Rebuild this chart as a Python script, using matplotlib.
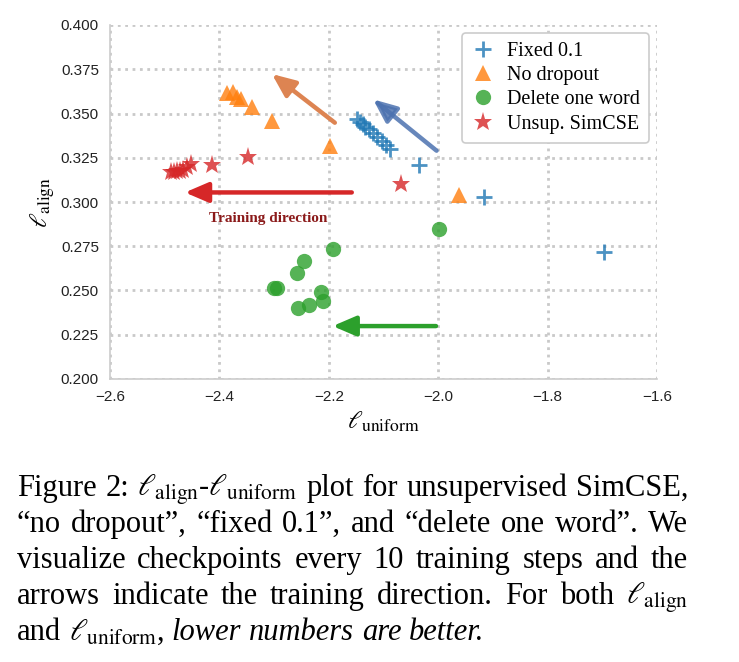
import numpy as np
import matplotlib
matplotlib.use("Agg")
import matplotlib.pyplot as plt
from matplotlib.ticker import FormatStrFormatter, FuncFormatter

plt.rcParams['mathtext.fontset'] = 'stix'

# ---------------- data ----------------
fixed_x = [-2.149, -2.143, -2.138, -2.133, -2.126, -2.119, -2.111, -2.103, -2.095, -2.089, -2.035, -1.916, -1.697]
fixed_y = [0.3467, 0.3454, 0.3441, 0.3426, 0.3411, 0.3392, 0.3369, 0.3346, 0.3322, 0.3298, 0.3209, 0.3030, 0.2716]

nodrop_x = [-2.386, -2.376, -2.368, -2.361, -2.341, -2.303, -2.197, -1.962]
nodrop_y = [0.3614, 0.3623, 0.3595, 0.3580, 0.3538, 0.3459, 0.3316, 0.3040]

delete_x = [-1.998, -2.192, -2.245, -2.259, -2.301, -2.294, -2.215, -2.211, -2.236, -2.256]
delete_y = [0.2847, 0.2733, 0.2665, 0.2597, 0.2514, 0.2514, 0.2493, 0.2441, 0.2418, 0.2401]

simcse_x = [-2.489, -2.483, -2.478, -2.472, -2.467, -2.459, -2.452, -2.414, -2.348, -2.068]
simcse_y = [0.3169, 0.3169, 0.3175, 0.3175, 0.3181, 0.3198, 0.3215, 0.3209, 0.3252, 0.3102]

series_labels = ["Fixed 0.1", "No dropout", "Delete one word", "Unsup. SimCSE"]

# arrows: (tail_x, tail_y, head_x, head_y)
arrow_orange = [-2.189, 0.3448, -2.304, 0.3723]
arrow_blue = [-2.003, 0.3290, -2.119, 0.3580]
arrow_red = [-2.158, 0.3054, -2.463, 0.3054]
arrow_green = [-2.004, 0.2299, -2.193, 0.2299]

xticks = [-2.6, -2.4, -2.2, -2.0, -1.8, -1.6]
yticks = [0.200, 0.225, 0.250, 0.275, 0.300, 0.325, 0.350, 0.375, 0.400]

annot_text = "Training direction"
annot_pos = [-2.311, 0.2905]

caption_lines = [
    ("justify", [("Figure", "normal"), ("2:", "normal"),
                 (r"$\ell_{\mathrm{align}}$-$\ell_{\mathrm{uniform}}$", "normal"),
                 ("plot", "normal"), ("for", "normal"), ("unsupervised", "normal"),
                 ("SimCSE,", "normal")]),
    ("justify", [("\u201cno", "normal"), ("dropout\u201d,", "normal"), ("\u201cfixed", "normal"),
                 ("0.1\u201d,", "normal"), ("and", "normal"), ("\u201cdelete", "normal"),
                 ("one", "normal"), ("word\u201d.", "normal"), ("We", "normal")]),
    ("justify", [("visualize", "normal"), ("checkpoints", "normal"), ("every", "normal"),
                 ("10", "normal"), ("training", "normal"), ("steps", "normal"),
                 ("and", "normal"), ("the", "normal")]),
    ("justify", [("arrows", "normal"), ("indicate", "normal"), ("the", "normal"),
                 ("training", "normal"), ("direction.", "normal"), ("For", "normal"),
                 ("both", "normal"), (r"$\ell_{\mathrm{align}}$", "normal")]),
    ("left", [("and", "normal"), (r"$\ell_{\mathrm{uniform}}$,", "normal"),
              ("lower", "italic"), ("numbers", "italic"), ("are", "italic"),
              ("better.", "italic")]),
]

# ---------------- figure ----------------
W, H = 739, 662
fig = plt.figure(figsize=(W / 100, H / 100), dpi=100)
ax = fig.add_axes([110 / W, 1 - 379 / H, (657 - 110) / W, (379 - 25) / H])

ax.set_xlim(-2.6, -1.6)
ax.set_ylim(0.2, 0.4)
ax.set_xticks(xticks)
ax.set_yticks(yticks)
ax.yaxis.set_major_formatter(FormatStrFormatter('%.3f'))
ax.xaxis.set_major_formatter(FuncFormatter(lambda v, p: ("%.1f" % v).replace("-", "\u2212")))
ax.grid(True, linestyle=':', linewidth=2.0, color='#c9c9c9')
ax.set_axisbelow(True)
for s in ['top', 'right']:
    ax.spines[s].set_visible(False)
for s in ['left', 'bottom']:
    ax.spines[s].set_color('#cccccc')
    ax.spines[s].set_linewidth(1.2)
ax.tick_params(length=0, pad=8, labelsize=11, labelcolor='#222222')
for lab in ax.get_xticklabels() + ax.get_yticklabels():
    lab.set_family('Liberation Sans')

ax.plot(fixed_x, fixed_y, linestyle='none', marker='+', markersize=11, markeredgewidth=2,
        color='#1f77b4', alpha=0.8, label=series_labels[0], zorder=3)
ax.plot(nodrop_x, nodrop_y, linestyle='none', marker='^', markersize=12,
        color='#ff7f0e', alpha=0.8, markeredgewidth=0, label=series_labels[1], zorder=3)
ax.plot(delete_x, delete_y, linestyle='none', marker='o', markersize=11,
        color='#2ca02c', alpha=0.8, markeredgewidth=0, label=series_labels[2], zorder=3)
ax.plot(simcse_x, simcse_y, linestyle='none', marker='*', markersize=14,
        color='#d62728', alpha=0.8, markeredgewidth=0, label=series_labels[3], zorder=3)

def draw_arrow(a, color, alpha=1.0):
    ax.annotate('', xy=(a[2], a[3]), xytext=(a[0], a[1]),
                arrowprops=dict(arrowstyle='-|>,head_width=0.3,head_length=0.7',
                                color=color, lw=3.2, alpha=alpha,
                                mutation_scale=20, shrinkA=0, shrinkB=0), zorder=4)

draw_arrow(arrow_orange, '#dd8452')
draw_arrow(arrow_blue, '#4c72b0', 0.85)
draw_arrow(arrow_red, '#d62728')
draw_arrow(arrow_green, '#2ca02c')

ax.text(annot_pos[0], annot_pos[1], annot_text, ha='center', va='center',
        fontsize=11, fontweight='bold', color='#8b1a1a', family='Liberation Serif')

leg = ax.legend(loc='upper right', prop={'family': 'Liberation Serif', 'size': 14.5},
                frameon=True, fancybox=True, edgecolor='#cccccc', framealpha=1.0,
                handletextpad=0.6, borderpad=0.45, labelspacing=0.25,
                borderaxespad=0.4, handlelength=1.2)
leg.get_frame().set_linewidth(1.2)

ax.set_xlabel(r"$\ell_{\mathrm{uniform}}$", fontsize=18, labelpad=4)
ax.set_ylabel(r"$\ell_{\mathrm{align}}$", fontsize=18, labelpad=3)

# ---------------- caption ----------------
fig.canvas.draw()
renderer = fig.canvas.get_renderer()
cap_size = 22
x_left, x_right = 17, 688
baselines = [496, 532, 568, 604, 640]
space_t = fig.text(0, 0, "a a", fontsize=cap_size, family='Liberation Serif')
aa = fig.text(0, 0, "aa", fontsize=cap_size, family='Liberation Serif')
space_w = space_t.get_window_extent(renderer).width - aa.get_window_extent(renderer).width
space_t.remove(); aa.remove()

for (mode, tokens), yb in zip(caption_lines, baselines):
    texts = []
    for tok, st in tokens:
        t = fig.text(0, 1 - yb / H, tok, fontsize=cap_size, family='Liberation Serif',
                     style=st, va='baseline', ha='left', color='black')
        texts.append(t)
    widths = [t.get_window_extent(renderer).width for t in texts]
    if mode == 'justify':
        gap = (x_right - x_left - sum(widths)) / (len(texts) - 1)
    else:
        gap = space_w
    x = x_left
    for t, w in zip(texts, widths):
        t.set_x(x / W)
        x += w + gap

fig.savefig('out.png', dpi=100)
